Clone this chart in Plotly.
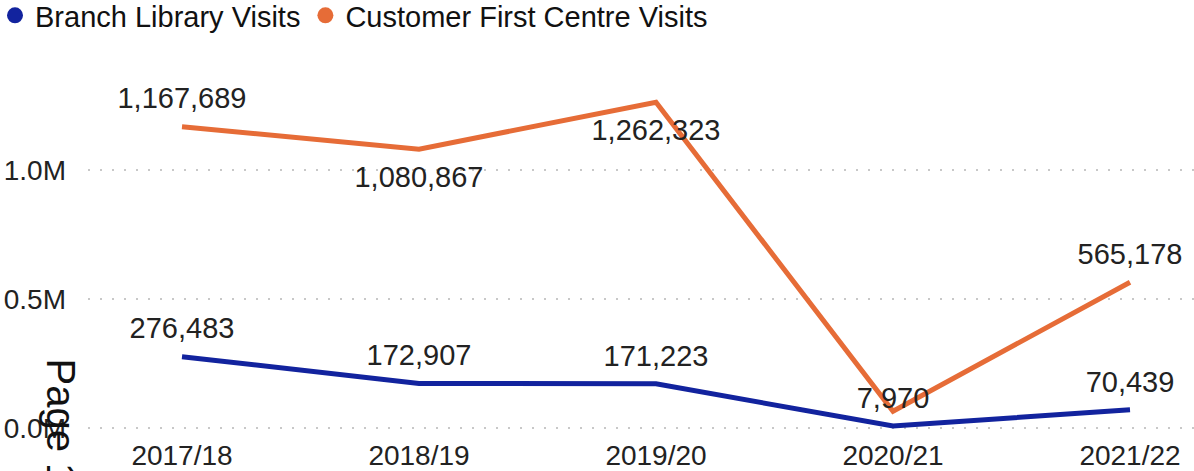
import plotly.graph_objects as go

years = ["2017/18", "2018/19", "2019/20", "2020/21", "2021/22"]
branch_visits = [276483, 172907, 171223, 7970, 70439]
cfc_visits = [1167689, 1080867, 1262323, 65000, 565178]
branch_labels = ["276,483", "172,907", "171,223", "7,970", "70,439"]
cfc_labels = ["1,167,689", "1,080,867", "1,262,323", "", "565,178"]
cfc_label_pos = ["top center", "bottom center", "bottom center", "top center", "top center"]
y_tickvals = [0, 500000, 1000000]
y_ticktext = ["0.0M", "0.5M", "1.0M"]

BLUE = "#12239E"
ORANGE = "#E66C37"
FONT = "Liberation Sans, Arial, sans-serif"
W, H = 1194, 471
ML, MR, MT, MB = 88, 0, 50, 35

fig = go.Figure()

fig.add_trace(go.Scatter(
    x=years, y=cfc_visits, mode="lines+markers+text",
    line=dict(color=ORANGE, width=5),
    marker=dict(size=[16 if p == "top center" else 24 for p in cfc_label_pos], opacity=0, color=ORANGE),
    text=cfc_labels, textposition=cfc_label_pos,
    textfont=dict(size=29, color="#222222", family=FONT),
    showlegend=False, cliponaxis=False,
))
fig.add_trace(go.Scatter(
    x=years, y=branch_visits, mode="lines+markers+text",
    line=dict(color=BLUE, width=5),
    marker=dict(size=16, opacity=0, color=BLUE),
    text=branch_labels, textposition="top center",
    textfont=dict(size=29, color="#222222", family=FONT),
    showlegend=False, cliponaxis=False,
))

# legend entries (circle symbols)
fig.add_trace(go.Scatter(x=[None], y=[None], mode="markers", name="Branch Library Visits",
                         marker=dict(color=BLUE, size=21, symbol="circle")))
fig.add_trace(go.Scatter(x=[None], y=[None], mode="markers", name="Customer First Centre Visits",
                         marker=dict(color=ORANGE, size=21, symbol="circle")))

pw = W - ML - MR
ph = H - MT - MB

fig.update_layout(
    width=W, height=H,
    margin=dict(l=ML, r=MR, t=MT, b=MB, autoexpand=False),
    paper_bgcolor="white", plot_bgcolor="white",
    font=dict(family=FONT, size=28, color="#222222"),
    legend=dict(orientation="h", x=-(ML + 5) / pw, y=1 + (MT + 10) / ph, xanchor="left", yanchor="top",
                font=dict(size=29, color="#111111"), itemwidth=30, tracegroupgap=0,
                bgcolor="rgba(0,0,0,0)"),
    xaxis=dict(range=[-0.3966, 4.27], showgrid=False, zeroline=False, showline=False,
               ticks="", automargin=False, tickfont=dict(size=28, color="#222222")),
    yaxis=dict(range=[-31000, 1465116], tickvals=y_tickvals, ticktext=y_ticktext,
               showgrid=True, gridcolor="#c8c8c8", gridwidth=2, griddash="2px,10px",
               zeroline=False, showline=False, ticks="", ticklabelstandoff=21,
               automargin=False, tickfont=dict(size=28, color="#222222")),
    hovermode=False,
)

fig.add_annotation(
    text="Page 1", textangle=90, showarrow=False,
    xref="paper", yref="paper",
    x=-(ML - 61) / pw, y=1 - (356 - MT) / ph,
    xanchor="center", yanchor="top",
    font=dict(size=40, color="#111111", family=FONT),
)

fig.write_html("out.html", config={"displayModeBar": False},
               post_script="document.body.style.margin='0';")
